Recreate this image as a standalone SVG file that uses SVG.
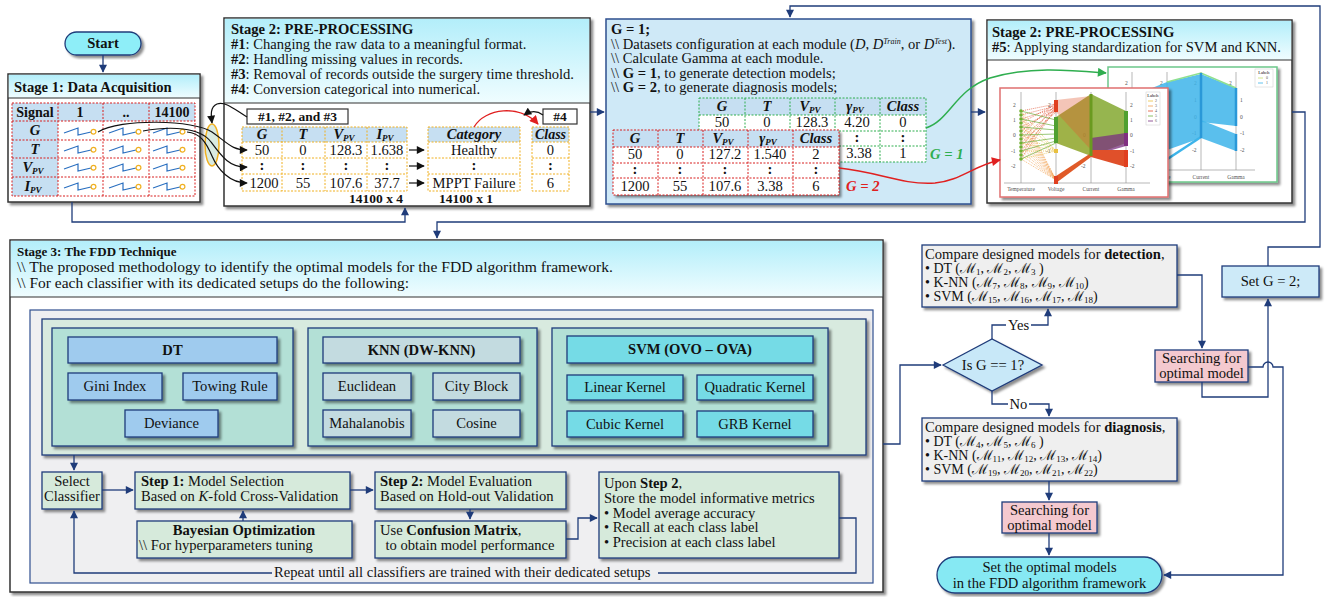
<svg xmlns="http://www.w3.org/2000/svg" width="1330" height="597" viewBox="0 0 1330 597">
<style>
.t{font-family:"Liberation Serif","DejaVu Serif",serif;font-size:14.6px;fill:#111}
.s{font-size:14px}
.sm{font-size:13.5px}
.sb{font-size:9px}
.b{font-weight:bold}
.i{font-style:italic}
.c{text-anchor:middle}
.ln{fill:none;stroke:#1f3c7a;stroke-width:1.3}
.arr{marker-end:url(#ah)}
.bk{fill:none;stroke:#111;stroke-width:1.2}
.stg{fill:#fff;stroke:#333;stroke-width:1.5;filter:url(#sh)}
.hd{fill:url(#hdr)}
.thd{fill:#c6dff2}
.cell{fill:#fff}
.rd{fill:none;stroke:#d81e1e;stroke-width:1;stroke-dasharray:2 1.5}
.or{fill:none;stroke:#f0b020;stroke-width:1;stroke-dasharray:2 1.5}
.gr{fill:none;stroke:#2fae4f;stroke-width:1;stroke-dasharray:2 1.5}
.bx{stroke:#1f3c7a;stroke-width:1.3;filter:url(#sh)}
.grn{fill:#d6eadb}
.dt{fill:#9fcbee}
.kn{fill:#c3dbe0}
.sv{fill:#74dbe6}
.pt{font-family:"Liberation Serif",serif;font-size:5.5px;fill:#555}
.ax{stroke:#9a9a9a;stroke-width:.7;fill:none}
</style>
<defs>
  <marker id="ah" viewBox="0 0 10 10" refX="9" refY="5" markerUnits="userSpaceOnUse" markerWidth="9" markerHeight="8" orient="auto">
    <path d="M0,0 L10,5 L0,10 z" fill="#1f3c7a"/>
  </marker>
  <marker id="ak" viewBox="0 0 10 10" refX="9" refY="5" markerUnits="userSpaceOnUse" markerWidth="9" markerHeight="8" orient="auto">
    <path d="M0,0 L10,5 L0,10 z" fill="#111"/>
  </marker>
  <marker id="ar" viewBox="0 0 10 10" refX="9" refY="5" markerUnits="userSpaceOnUse" markerWidth="10" markerHeight="9" orient="auto">
    <path d="M0,0 L10,5 L0,10 z" fill="#e02020"/>
  </marker>
  <marker id="ag" viewBox="0 0 10 10" refX="9" refY="5" markerUnits="userSpaceOnUse" markerWidth="10" markerHeight="9" orient="auto">
    <path d="M0,0 L10,5 L0,10 z" fill="#2fae4f"/>
  </marker>
  <filter id="sh" x="-10%" y="-10%" width="125%" height="130%">
    <feDropShadow dx="2.5" dy="2.5" stdDeviation="1.2" flood-color="#000" flood-opacity="0.45"/>
  </filter>
  <linearGradient id="hdr" x1="0" y1="0" x2="0" y2="1">
    <stop offset="0" stop-color="#b3eefa"/>
    <stop offset="1" stop-color="#f0fdff"/>
  </linearGradient>
  <!-- small sawtooth signal glyph used in the acquisition table -->
  <g id="saw">
    <path d="M0,1 L14,-4 L14,3 L27,0" fill="none" stroke="#2a6fc0" stroke-width="1.2"/>
    <circle cx="29.5" cy="-0.3" r="2.4" fill="#fff" stroke="#f0b020" stroke-width="1.2"/>
  </g>
</defs>

<rect width="1330" height="597" fill="#fff"/>

<!-- Start terminator -->
<g id="start">
  <rect x="65" y="32" width="76" height="23" rx="11.5" fill="#8eeef8" stroke="#1f3c7a" stroke-width="1.3" filter="url(#sh)"/>
  <text class="t b c" x="103" y="48">Start</text>
</g>

<!-- Stage 1 -->
<g id="stage1">
  <rect class="stg" x="8" y="74" width="192" height="128"/>
  <rect class="hd" x="8.8" y="74.8" width="190.4" height="23.2"/>
  <line x1="8" y1="98" x2="200" y2="98" stroke="#333" stroke-width="1.2"/>
  <text class="t b" x="14" y="92">Stage 1: Data Acquisition</text>
  <rect class="thd" x="12" y="103" width="183" height="18"/>
  <rect class="thd" x="12" y="121" width="46" height="75"/>
  <path class="rd" d="M12,121H195M12,140H195M12,158H195M12,177H195M58,103V196M103,103V196M149,103V196"/>
  <rect class="rd" x="12" y="103" width="183" height="93"/>
  <text class="t b c s" x="35" y="117">Signal</text>
  <text class="t b c s" x="80" y="117">1</text>
  <text class="t b c s" x="126" y="117">..</text>
  <text class="t b c s" x="172" y="117">14100</text>
  <text class="t b i c" x="35" y="135">G</text>
  <text class="t b i c" x="35" y="154">T</text>
  <text class="t b i c" x="33" y="172">V<tspan class="sb" dy="2">PV</tspan></text>
  <text class="t b i c" x="33" y="191">I<tspan class="sb" dy="2">PV</tspan></text>
  <use href="#saw" x="64" y="132"/><use href="#saw" x="109" y="132"/><use href="#saw" x="153" y="132"/>
  <use href="#saw" x="64" y="150"/><use href="#saw" x="109" y="150"/><use href="#saw" x="153" y="150"/>
  <use href="#saw" x="64" y="168"/><use href="#saw" x="109" y="168"/><use href="#saw" x="153" y="168"/>
  <use href="#saw" x="64" y="187"/><use href="#saw" x="109" y="187"/><use href="#saw" x="153" y="187"/>
</g>

<!-- Stage 2 (pre-processing #1-#4) -->
<g id="stage2a">
  <rect class="stg" x="224" y="18" width="366" height="188"/>
  <rect class="hd" x="224.8" y="18.8" width="364.4" height="84.2"/>
  <line x1="224" y1="103" x2="590" y2="103" stroke="#333" stroke-width="1.2"/>
  <text class="t b" x="231" y="34">Stage 2: PRE-PROCESSING</text>
  <text class="t" x="231" y="49"><tspan class="b">#1</tspan>: Changing the raw data to a meaningful format.</text>
  <text class="t" x="231" y="64"><tspan class="b">#2</tspan>: Handling missing values in records.</text>
  <text class="t" x="231" y="79"><tspan class="b">#3</tspan>: Removal of records outside the surgery time threshold.</text>
  <text class="t" x="231" y="94"><tspan class="b">#4</tspan>: Conversion categorical into numerical.</text>
  <rect x="247" y="109" width="101" height="15" fill="#fff" stroke="#333" stroke-width="1.2"/>
  <text class="t b c sm" x="297.5" y="121">#1, #2, and #3</text>
  <rect x="543" y="109" width="34" height="15" fill="#fff" stroke="#333" stroke-width="1.2"/>
  <text class="t b c sm" x="560" y="121">#4</text>
  <!-- numeric table -->
  <rect class="thd" x="242" y="127" width="165" height="15"/>
  <path class="or" d="M242,142H407M242,158H407M242,174H407M282,127V191M325,127V191M367,127V191"/>
  <rect class="or" x="242" y="127" width="165" height="64"/>
  <text class="t b i c" x="262" y="139">G</text>
  <text class="t b i c" x="303" y="139">T</text>
  <text class="t b i c" x="344" y="139">V<tspan class="sb" dy="2">PV</tspan></text>
  <text class="t b i c" x="385" y="139">I<tspan class="sb" dy="2">PV</tspan></text>
  <text class="t c" x="262" y="155">50</text><text class="t c" x="303" y="155">0</text><text class="t c" x="346" y="155">128.3</text><text class="t c" x="387" y="155">1.638</text>
  <text class="t b c" x="262" y="170">:</text><text class="t b c" x="303" y="170">:</text><text class="t b c" x="346" y="170">:</text><text class="t b c" x="387" y="170">:</text>
  <text class="t c" x="264" y="188">1200</text><text class="t c" x="303" y="188">55</text><text class="t c" x="346" y="188">107.6</text><text class="t c" x="387" y="188">37.7</text>
  <!-- category table -->
  <rect class="thd" x="428" y="127" width="92" height="15"/>
  <path class="or" d="M428,142H520M428,158H520M428,174H520"/>
  <rect class="or" x="428" y="127" width="92" height="64"/>
  <text class="t b i c" x="474" y="139">Category</text>
  <text class="t c" x="474" y="155">Healthy</text>
  <text class="t b c" x="474" y="170">:</text>
  <text class="t c" x="474" y="188">MPPT Failure</text>
  <!-- class table -->
  <rect class="thd" x="532" y="127" width="37" height="15"/>
  <path class="or" d="M532,142H569M532,158H569M532,174H569"/>
  <rect class="or" x="532" y="127" width="37" height="64"/>
  <text class="t b i c s" x="550.5" y="139">Class</text>
  <text class="t c" x="550.5" y="155">0</text>
  <text class="t b c" x="550.5" y="170">:</text>
  <text class="t c" x="550.5" y="188">6</text>
  <text class="t b c sm" x="376" y="203">14100 x 4</text>
  <text class="t b c sm" x="466" y="203">14100 x 1</text>
  <!-- row arrows and label arrows -->
  <path class="bk" marker-end="url(#ak)" d="M409,150H424"/>
  <path class="bk" marker-end="url(#ak)" d="M409,166H424"/>
  <path class="bk" marker-end="url(#ak)" d="M409,183H424"/>
  <path fill="none" stroke="#e02020" stroke-width="1.3" marker-end="url(#ar)" d="M474,127 C485,108 520,104 538,124"/>
  <path class="bk" marker-end="url(#ak)" d="M543,115 C536,110 530,111 524,115"/>
</g>

<!-- Stage 2 (gamma / dataset configuration) -->
<g id="gamma">
  <rect x="606" y="19" width="365" height="185" fill="#cfe9f7" stroke="#2f4f8f" stroke-width="1.5" filter="url(#sh)"/>
  <text class="t b" x="611" y="34">G = 1;</text>
  <text class="t" x="611" y="49">\\ Datasets configuration at each module (<tspan class="i">D</tspan>, <tspan class="i">D</tspan><tspan class="i" font-size="8" dy="-5">Train</tspan><tspan dy="5">, or </tspan><tspan class="i">D</tspan><tspan class="i" font-size="8" dy="-5">Test</tspan><tspan dy="5">).</tspan></text>
  <text class="t" x="611" y="63">\\ Calculate Gamma at each module.</text>
  <text class="t" x="611" y="78">\\ <tspan class="b">G = 1</tspan>, to generate detection models;</text>
  <text class="t" x="611" y="92">\\ <tspan class="b">G = 2</tspan>, to generate diagnosis models;</text>
  <!-- G = 1 table -->
  <rect class="cell" x="699" y="98" width="227" height="64"/>
  <rect class="thd" x="699" y="98" width="227" height="17"/>
  <path class="gr" d="M699,115H926M699,131H926M699,146H926M745,98V162M790,98V162M835,98V162M880,98V162"/>
  <rect class="gr" x="699" y="98" width="227" height="64"/>
  <text class="t b i c" x="722" y="111">G</text>
  <text class="t b i c" x="767" y="111">T</text>
  <text class="t b i c" x="810" y="111">V<tspan class="sb" dy="2">PV</tspan></text>
  <text class="t b i c" x="855" y="111">γ<tspan class="sb" dy="2">PV</tspan></text>
  <text class="t b i c" x="903" y="111">Class</text>
  <text class="t c" x="722" y="127">50</text><text class="t c" x="767" y="127">0</text><text class="t c" x="812" y="127">128.3</text><text class="t c" x="857" y="127">4.20</text><text class="t c" x="903" y="127">0</text>
  <text class="t b c" x="857" y="142">:</text><text class="t b c" x="903" y="142">:</text>
  <text class="t c" x="859" y="158">3.38</text><text class="t c" x="903" y="158">1</text>
  <text class="t b i" x="930" y="159" style="fill:#2fae4f">G = 1</text>
  <!-- G = 2 table -->
  <rect class="cell" x="613" y="130" width="226" height="65" filter="url(#sh)"/>
  <rect class="thd" x="613" y="130" width="226" height="17"/>
  <path class="rd" d="M613,147H839M613,163H839M613,178H839M658,130V195M703,130V195M748,130V195M793,130V195"/>
  <rect class="rd" x="613" y="130" width="226" height="65"/>
  <text class="t b i c" x="635" y="143">G</text>
  <text class="t b i c" x="680" y="143">T</text>
  <text class="t b i c" x="723" y="143">V<tspan class="sb" dy="2">PV</tspan></text>
  <text class="t b i c" x="768" y="143">γ<tspan class="sb" dy="2">PV</tspan></text>
  <text class="t b i c" x="816" y="143">Class</text>
  <text class="t c" x="635" y="159">50</text><text class="t c" x="680" y="159">0</text><text class="t c" x="725" y="159">127.2</text><text class="t c" x="770" y="159">1.540</text><text class="t c" x="816" y="159">2</text>
  <text class="t b c" x="635" y="174">:</text><text class="t b c" x="680" y="174">:</text><text class="t b c" x="725" y="174">:</text><text class="t b c" x="770" y="174">:</text><text class="t b c" x="816" y="174">:</text>
  <text class="t c" x="635" y="191">1200</text><text class="t c" x="680" y="191">55</text><text class="t c" x="725" y="191">107.6</text><text class="t c" x="770" y="191">3.38</text><text class="t c" x="816" y="191">6</text>
  <text class="t b i" x="846" y="191" style="fill:#e02020">G = 2</text>
</g>

<!-- Stage 2 (#5 standardization) with parallel-coordinate plots -->
<g id="stage2b">
  <rect class="stg" x="987" y="20" width="305" height="183"/>
  <rect class="hd" x="987.8" y="20.8" width="303.4" height="39.2"/>
  <line x1="987" y1="60" x2="1292" y2="60" stroke="#333" stroke-width="1.2"/>
  <text class="t b" x="992" y="37">Stage 2: PRE-PROCESSING</text>
  <text class="t" x="992" y="52"><tspan class="b">#5</tspan>: Applying standardization for SVM and KNN.</text>

  <!-- detection-set plot (labels 0/1) -->
  <rect x="1108" y="67" width="169" height="115" fill="#fff" stroke="#6cc78a" stroke-width="1.5" filter="url(#sh)"/>
  <path class="ax" d="M1132,72V170M1167,72V170M1201,72V170M1236,72V170M1112,170H1255"/>
  <g class="pt">
    <text x="1125" y="85">2</text><text x="1160" y="85">2</text><text x="1194" y="85">2</text><text x="1229" y="85">2</text>
    <text x="1194" y="102">1</text><text x="1240" y="102">1</text>
    <text x="1194" y="119">0</text><text x="1240" y="119">0</text>
    <text x="1192" y="135">-1</text><text x="1240" y="135">-1</text>
    <text x="1192" y="152">-2</text><text x="1240" y="152">-2</text>
    <text x="1162" y="179" text-anchor="middle">Voltage</text>
    <text x="1201" y="179" text-anchor="middle">Current</text>
    <text x="1236" y="179" text-anchor="middle">Gamma</text>
  </g>
  <polygon points="1132,96 1167,82 1167,150 1132,160" fill="#3db4ea" fill-opacity="0.85"/>
  <polygon points="1167,82 1201,74 1201,138 1167,150" fill="#3db4ea" fill-opacity="0.85"/>
  <polygon points="1201,74 1236,88 1236,126 1201,122" fill="#3db4ea" fill-opacity="0.85"/>
  <polygon points="1201,120 1236,134 1236,151 1201,138" fill="#3db4ea" fill-opacity="0.85"/>
  <path d="M1201,137 L1166,160" stroke="#3db4ea" stroke-width="2.5"/>
  <polyline points="1167,82 1201,73 1236,88" fill="none" stroke="#8fe08f" stroke-width="1.5"/>
  <path d="M1201,73V138M1236,88V126M1236,134V151" stroke="#2a98d8" stroke-width="2.5"/>
  <rect x="1255" y="69" width="18" height="18" fill="#fff" stroke="#ccc" stroke-width=".5"/>
  <text x="1264" y="74" text-anchor="middle" class="pt" font-weight="bold" style="font-size:4px">Labels</text>
  <text x="1266" y="79" class="pt" style="font-size:4px">0</text>
  <text x="1266" y="84" class="pt" style="font-size:4px">1</text>
  <path d="M1258,78H1263" stroke="#c8e070" stroke-width=".8"/><path d="M1258,83H1263" stroke="#3db4ea" stroke-width=".8"/>

  <!-- diagnosis-set plot (labels 2..6) -->
  <rect x="1000" y="88" width="168" height="109" fill="#fff" stroke="#e07070" stroke-width="1.5" filter="url(#sh)"/>
  <path class="ax" d="M1021,92V183M1056,92V183M1091,92V183M1126,92V183M1004,183H1150"/>
  <g class="pt">
    <text x="1013" y="107">2</text><text x="1048" y="107">2</text><text x="1130" y="107">2</text>
    <text x="1013" y="122">1</text><text x="1130" y="122">1</text>
    <text x="1013" y="137">0</text><text x="1083" y="137">0</text><text x="1130" y="137">0</text>
    <text x="1011" y="153">-1</text><text x="1046" y="153">-1</text><text x="1130" y="153">-1</text>
    <text x="1011" y="168">-2</text><text x="1081" y="168">-2</text><text x="1130" y="168">-2</text>
    <text x="1021" y="191" text-anchor="middle">Temperature</text>
    <text x="1056" y="191" text-anchor="middle">Voltage</text>
    <text x="1091" y="191" text-anchor="middle">Current</text>
    <text x="1126" y="191" text-anchor="middle">Gamma</text>
  </g>
  <path d="M1021,111L1056,180M1021,115L1056,180M1021,119L1056,180M1021,123L1056,180M1021,127L1056,180M1021,131L1056,180M1021,135L1056,180M1021,139L1056,180M1021,143L1056,180M1021,147L1056,180M1021,151L1056,180M1021,155L1056,180M1021,159L1056,180" stroke="#f0a050" stroke-width=".7" stroke-dasharray="1 1"/>
  <path d="M1021,111L1056,104M1021,115L1056,106M1021,119L1056,108M1021,123L1056,104M1021,127L1056,110M1021,131L1056,106M1021,135L1056,102M1021,139L1056,108M1021,143L1056,112M1021,147L1056,104M1021,151L1056,110M1021,155L1056,106M1021,159L1056,108" stroke="#e05030" stroke-width=".7" stroke-dasharray="1 1"/>
  <path d="M1021,111L1056,151M1021,119L1056,151M1021,127L1056,151M1021,135L1056,151M1021,143L1056,151M1021,151L1056,151M1021,159L1056,151" stroke="#e8c040" stroke-width=".7" stroke-dasharray="1 1"/>
  <path d="M1021,111L1056,120M1021,119L1056,126M1021,127L1056,130M1021,135L1056,134M1021,143L1056,138M1021,151L1056,141M1021,159L1056,143" stroke="#70b040" stroke-width=".7"/>
  <polygon points="1056,117 1091,94 1091,156 1056,143" fill="#8ea428" fill-opacity="0.85"/>
  <polygon points="1056,100 1091,96 1091,150 1056,112" fill="#e05a30" fill-opacity="0.35"/>
  <polygon points="1056,176 1091,153 1091,157 1056,183" fill="#e05a28"/>
  <polygon points="1091,94 1126,111 1126,143 1091,156" fill="#84a830" fill-opacity="0.85"/>
  <polygon points="1091,138 1126,133 1126,146 1091,156" fill="#7a3080" fill-opacity="0.75"/>
  <polygon points="1091,150 1126,150 1126,167 1091,157" fill="#e0502a"/>
  <path d="M1056,100V112M1056,176V184M1126,150V167" stroke="#e04020" stroke-width="4"/>
  <path d="M1056,117V143M1126,111V133" stroke="#50a030" stroke-width="4"/>
  <path d="M1091,94V156" stroke="#6a9a20" stroke-width="3"/>
  <path d="M1126,133V146" stroke="#803080" stroke-width="4"/>
  <path d="M1056,149V153" stroke="#e8c040" stroke-width="4"/>
  <g fill="#70b030">
    <circle cx="1021" cy="111" r="1.8"/><circle cx="1021" cy="115" r="1.8"/><circle cx="1021" cy="119" r="1.8"/><circle cx="1021" cy="123" r="1.8"/><circle cx="1021" cy="127" r="1.8"/><circle cx="1021" cy="131" r="1.8"/><circle cx="1021" cy="135" r="1.8"/><circle cx="1021" cy="139" r="1.8"/><circle cx="1021" cy="143" r="1.8"/><circle cx="1021" cy="147" r="1.8"/><circle cx="1021" cy="151" r="1.8"/><circle cx="1021" cy="155" r="1.8"/><circle cx="1021" cy="159" r="1.8"/>
  </g>
  <rect x="1146" y="92" width="14" height="33" fill="#fff" stroke="#ccc" stroke-width=".5"/>
  <text x="1153" y="97" text-anchor="middle" class="pt" font-weight="bold" style="font-size:4px">Labels</text>
  <g class="pt" style="font-size:4px">
    <text x="1155" y="102">2</text><text x="1155" y="107">3</text><text x="1155" y="112">4</text><text x="1155" y="117">5</text><text x="1155" y="122">6</text>
  </g>
  <path d="M1148,101H1153" stroke="#e8c040" stroke-width=".8"/><path d="M1148,106H1153" stroke="#f0a050" stroke-width=".8"/><path d="M1148,111H1153" stroke="#e05030" stroke-width=".8"/><path d="M1148,116H1153" stroke="#70b040" stroke-width=".8"/><path d="M1148,121H1153" stroke="#7a3080" stroke-width=".8"/>
</g>

<!-- Stage 3 -->
<g id="stage3">
  <rect class="stg" x="10" y="240" width="873" height="352"/>
  <rect class="hd" x="10.8" y="240.8" width="871.4" height="56.2"/>
  <line x1="10" y1="297" x2="883" y2="297" stroke="#333" stroke-width="1.2"/>
  <text class="t b" x="17" y="256" style="font-size:13px">Stage 3: The FDD  Technique</text>
  <text class="t" x="17" y="272" textLength="596" lengthAdjust="spacingAndGlyphs">\\ The proposed methodology to identify the optimal models for the FDD algorithm framework.</text>
  <text class="t" x="17" y="288" textLength="392" lengthAdjust="spacingAndGlyphs">\\  For each classifier with its dedicated setups do the following:</text>
  <rect x="30" y="310" width="843" height="273" fill="#efeff1" stroke="#2f4f8f" stroke-width="1.2"/>
  <rect x="42" y="319" width="824" height="136" fill="#d8eadf" class="bx"/>
</g>

<g id="dt">
  <rect x="52" y="328" width="241" height="118" fill="#b3e0d6" class="bx"/>
  <rect x="68" y="337" width="209" height="26" class="bx dt"/>
  <text class="t b c" x="172.5" y="355">DT</text>
  <rect x="68" y="373" width="94" height="27" class="bx dt"/>
  <text class="t c" x="115" y="391">Gini Index</text>
  <rect x="183" y="373" width="94" height="27" class="bx dt"/>
  <text class="t c" x="230" y="391">Towing Rule</text>
  <rect x="125" y="410" width="93" height="27" class="bx dt"/>
  <text class="t c" x="171.5" y="428">Deviance</text>
</g>

<g id="knn">
  <rect x="308" y="328" width="229" height="118" fill="#b3e0d6" class="bx"/>
  <rect x="323" y="337" width="197" height="26" class="bx kn"/>
  <text class="t b c" x="421.5" y="355">KNN (DW-KNN)</text>
  <rect x="323" y="373" width="88" height="27" class="bx kn"/>
  <text class="t c" x="367" y="391">Euclidean</text>
  <rect x="433" y="373" width="87" height="27" class="bx kn"/>
  <text class="t c" x="476.5" y="391">City Block</text>
  <rect x="323" y="410" width="88" height="27" class="bx kn"/>
  <text class="t c" x="367" y="428">Mahalanobis</text>
  <rect x="433" y="410" width="87" height="27" class="bx kn"/>
  <text class="t c" x="476.5" y="428">Cosine</text>
</g>

<g id="svm">
  <rect x="552" y="328" width="276" height="118" fill="#b3e0d6" class="bx"/>
  <rect x="567" y="336" width="246" height="27" class="bx sv"/>
  <text class="t b c" x="690" y="354">SVM (OVO – OVA)</text>
  <rect x="567" y="375" width="116" height="25" class="bx sv"/>
  <text class="t c" x="625" y="392">Linear Kernel</text>
  <rect x="697" y="375" width="116" height="25" class="bx sv"/>
  <text class="t c" x="755" y="392">Quadratic Kernel</text>
  <rect x="567" y="411" width="116" height="26" class="bx sv"/>
  <text class="t c" x="625" y="429">Cubic Kernel</text>
  <rect x="697" y="411" width="116" height="26" class="bx sv"/>
  <text class="t c" x="755" y="429">GRB Kernel</text>
</g>

<g id="select">
  <rect x="42" y="472" width="60" height="37" class="bx grn"/>
  <text class="t c" x="72" y="486">Select</text>
  <text class="t c" x="72" y="501">Classifier</text>
</g>
<g id="step1">
  <rect x="135" y="472" width="215" height="37" class="bx grn"/>
  <text class="t" x="141" y="486"><tspan class="b">Step 1:</tspan> Model Selection</text>
  <text class="t" x="141" y="501">Based on <tspan class="i">K</tspan>-fold Cross-Validation</text>
</g>
<g id="bayes">
  <rect x="137" y="521" width="215" height="37" class="bx grn"/>
  <text class="t b c" x="244" y="535">Bayesian Optimization</text>
  <text class="t" x="139" y="550">\\ For hyperparameters tuning</text>
</g>
<g id="step2">
  <rect x="375" y="472" width="191" height="37" class="bx grn"/>
  <text class="t" x="380" y="486"><tspan class="b">Step 2:</tspan> Model Evaluation</text>
  <text class="t" x="380" y="501">Based on Hold-out Validation</text>
</g>
<g id="confusion">
  <rect x="375" y="521" width="191" height="37" class="bx grn"/>
  <text class="t" x="380" y="535">Use <tspan class="b">Confusion Matrix</tspan>,</text>
  <text class="t c" x="470" y="550">to obtain model performance</text>
</g>
<g id="store">
  <rect x="599" y="472" width="240" height="86" class="bx grn"/>
  <text class="t" x="604" y="488">Upon <tspan class="b">Step 2</tspan>,</text>
  <text class="t" x="604" y="503">Store the model informative metrics</text>
  <text class="t" x="604" y="518">• Model average accuracy</text>
  <text class="t" x="604" y="532">• Recall at each class label</text>
  <text class="t" x="604" y="547">• Precision at each class label</text>
</g>

<!-- decision side -->
<g id="decision">
  <polygon points="943,365 992,339 1042,365 992,391" fill="#c8e8f8" stroke="#1f3c7a" stroke-width="1.3" filter="url(#sh)"/>
  <text class="t c" x="993" y="370">Is G == 1?</text>
</g>
<g id="detect">
  <rect x="922" y="245" width="255" height="62" fill="#efefef" class="bx"/>
  <text class="t" x="925" y="259">Compare designed models for <tspan class="b">detection</tspan>,</text>
  <text class="t s" x="925" y="273">• DT (ℳ<tspan class="sb" dy="2">1</tspan><tspan dy="-2">, ℳ</tspan><tspan class="sb" dy="2">2</tspan><tspan dy="-2">, ℳ</tspan><tspan class="sb" dy="2">3</tspan><tspan dy="-2"> )</tspan></text>
  <text class="t s" x="925" y="287">• K-NN (ℳ<tspan class="sb" dy="2">7</tspan><tspan dy="-2">, ℳ</tspan><tspan class="sb" dy="2">8</tspan><tspan dy="-2">, ℳ</tspan><tspan class="sb" dy="2">9</tspan><tspan dy="-2">, ℳ</tspan><tspan class="sb" dy="2">10</tspan><tspan dy="-2">)</tspan></text>
  <text class="t s" x="925" y="301">• SVM (ℳ<tspan class="sb" dy="2">15</tspan><tspan dy="-2">, ℳ</tspan><tspan class="sb" dy="2">16</tspan><tspan dy="-2">, ℳ</tspan><tspan class="sb" dy="2">17</tspan><tspan dy="-2">, ℳ</tspan><tspan class="sb" dy="2">18</tspan><tspan dy="-2">)</tspan></text>
</g>
<g id="search1">
  <rect x="1155" y="350" width="93" height="32" fill="#f4c9cf" class="bx"/>
  <text class="t c" x="1201.5" y="363">Searching for</text>
  <text class="t c" x="1201.5" y="378">optimal model</text>
</g>
<g id="setg2">
  <rect x="1222" y="266" width="97" height="31" fill="#cdeaf8" class="bx"/>
  <text class="t c" x="1270.5" y="286">Set G = 2;</text>
</g>
<g id="diagnose">
  <rect x="922" y="418" width="255" height="63" fill="#efefef" class="bx"/>
  <text class="t" x="925" y="432">Compare designed models for <tspan class="b">diagnosis</tspan>,</text>
  <text class="t s" x="925" y="446">• DT (ℳ<tspan class="sb" dy="2">4</tspan><tspan dy="-2">, ℳ</tspan><tspan class="sb" dy="2">5</tspan><tspan dy="-2">, ℳ</tspan><tspan class="sb" dy="2">6</tspan><tspan dy="-2"> )</tspan></text>
  <text class="t s" x="925" y="460">• K-NN (ℳ<tspan class="sb" dy="2">11</tspan><tspan dy="-2">, ℳ</tspan><tspan class="sb" dy="2">12</tspan><tspan dy="-2">, ℳ</tspan><tspan class="sb" dy="2">13</tspan><tspan dy="-2">, ℳ</tspan><tspan class="sb" dy="2">14</tspan><tspan dy="-2">)</tspan></text>
  <text class="t s" x="925" y="474">• SVM (ℳ<tspan class="sb" dy="2">19</tspan><tspan dy="-2">, ℳ</tspan><tspan class="sb" dy="2">20</tspan><tspan dy="-2">, ℳ</tspan><tspan class="sb" dy="2">21</tspan><tspan dy="-2">, ℳ</tspan><tspan class="sb" dy="2">22</tspan><tspan dy="-2">)</tspan></text>
</g>
<g id="search2">
  <rect x="1002" y="502" width="95" height="31" fill="#f4c9cf" class="bx"/>
  <text class="t c" x="1049.5" y="515">Searching for</text>
  <text class="t c" x="1049.5" y="530">optimal model</text>
</g>
<g id="end">
  <rect x="937" y="557" width="225" height="36" rx="18" fill="#86e9f3" stroke="#1f3c7a" stroke-width="1.3" filter="url(#sh)"/>
  <text class="t c" x="1049.5" y="572">Set the optimal models</text>
  <text class="t c" x="1049.5" y="588">in the FDD algorithm framework</text>
</g>

<!-- connectors -->
<g id="connectors">
  <path class="ln arr" d="M103,55V72"/>
  <path class="ln arr" d="M72,202V222H405V208"/>
  <path class="ln arr" d="M590,112H604"/>
  <path class="ln arr" d="M971,112H985"/>
  <path class="ln arr" d="M1292,112H1305V222H437V238"/>
  <path class="ln arr" d="M1268,266V247H1320V6H790V17"/>
  <!-- acquisition to pre-processing -->
  <ellipse cx="212" cy="145" rx="7" ry="21" fill="#cfe5d8" fill-opacity="0.8" stroke="#f0b020" stroke-width="1.5"/>
  <path class="bk" marker-end="url(#ak)" d="M98,132 C120,118 195,120 212,132 S232,150 247,150"/>
  <path class="bk" marker-end="url(#ak)" d="M143,131 C170,126 200,127 211,142 S230,168 247,167"/>
  <path class="bk" marker-end="url(#ak)" d="M187,132 C200,133 206,142 212,156 S230,183 247,183"/>
  <path class="bk" marker-end="url(#ak)" d="M247,117 C235,110 226,101 217,104 C210,107 211,115 212,123"/>
  <!-- plots feed -->
  <path fill="none" stroke="#2fae4f" stroke-width="1.5" marker-end="url(#ag)" d="M926,128 C950,120 955,90 990,78 C1030,66 1070,70 1106,73"/>
  <path fill="none" stroke="#e02020" stroke-width="1.5" marker-end="url(#ar)" d="M839,168 C880,172 900,185 935,183 C960,181 975,165 1000,160"/>
  <!-- classifier loop -->
  <path class="ln arr" d="M74,455V470"/>
  <path class="ln arr" d="M102,490H133"/>
  <path class="ln arr" d="M350,490H373"/>
  <path class="ln arr" d="M243,521V511"/>
  <path class="ln arr" d="M470,509V519"/>
  <path class="ln arr" d="M566,539H578V518H597"/>
  <path class="ln" d="M839,518H856V573H658"/>
  <path class="ln arr" d="M272,573H74V511"/>
  <text class="t" x="274" y="577">Repeat until all classifiers are trained with their dedicated setups</text>
  <!-- decision flow -->
  <path class="ln arr" d="M883,444H900V365H941"/>
  <path class="ln" d="M992,339V325H1006"/>
  <path class="ln arr" d="M1031,325H1048V309"/>
  <text class="t c" x="1018.5" y="330">Yes</text>
  <path class="ln arr" d="M1177,275H1202V348"/>
  <path class="ln arr" d="M1202,382V397H1268V299"/>
  <path class="ln arr" d="M1248,367H1263A5,5 0 0 1 1273,367H1283V575H1164"/>
  <path class="ln" d="M992,391V404H1008"/>
  <path class="ln arr" d="M1029,404H1049V416"/>
  <text class="t c" x="1018.5" y="409">No</text>
  <path class="ln arr" d="M1049,481V500"/>
  <path class="ln arr" d="M1049,533V555"/>
</g>
</svg>
